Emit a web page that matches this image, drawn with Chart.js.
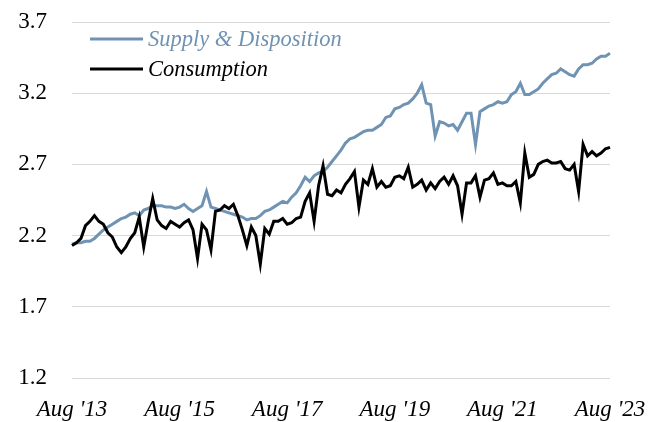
<!DOCTYPE html>
<html>
<head>
<meta charset="utf-8">
<script src="https://cdn.jsdelivr.net/npm/chart.js@4.4.1/dist/chart.umd.min.js"></script>
<style>
  html, body { margin: 0; padding: 0; background: #fff; }
  #wrap { width: 660px; height: 422px; }
</style>
</head>
<body>
<div id="wrap"><canvas id="chart" width="660" height="422"></canvas></div>
<script>
// monthly, Aug 2013 .. Aug 2023
const startYear = 2013, startMonth = 7;
const monthNames = ['Jan', 'Feb', 'Mar', 'Apr', 'May', 'Jun', 'Jul', 'Aug', 'Sep', 'Oct', 'Nov', 'Dec'];
const xTickLabels = ["Aug '13", "Aug '15", "Aug '17", "Aug '19", "Aug '21", "Aug '23"];
const yTicks = [1.2, 1.7, 2.2, 2.7, 3.2, 3.7];

const supplyDisposition = [
  2.14, 2.15, 2.15, 2.16, 2.16, 2.18, 2.21, 2.24, 2.26, 2.28, 2.30, 2.32,
  2.33, 2.35, 2.36, 2.34, 2.38, 2.39, 2.41, 2.41, 2.41, 2.40, 2.40, 2.39,
  2.40, 2.42, 2.39, 2.37, 2.39, 2.41, 2.51, 2.40, 2.39, 2.38, 2.37, 2.36,
  2.35, 2.34, 2.33, 2.31, 2.32, 2.32, 2.34, 2.37, 2.38, 2.40, 2.42, 2.44,
  2.43, 2.47, 2.50, 2.55, 2.61, 2.58, 2.62, 2.64, 2.65, 2.68, 2.72, 2.76,
  2.80, 2.85, 2.88, 2.89, 2.91, 2.93, 2.94, 2.94, 2.96, 2.98, 3.03, 3.04,
  3.09, 3.10, 3.12, 3.13, 3.16, 3.20, 3.26, 3.13, 3.12, 2.90, 3.00, 2.99,
  2.97, 2.98, 2.94, 3.00, 3.06, 3.06, 2.84, 3.07, 3.09, 3.11, 3.12, 3.14,
  3.13, 3.14, 3.19, 3.21, 3.27, 3.19, 3.19, 3.21, 3.23, 3.27, 3.30, 3.33,
  3.34, 3.37, 3.35, 3.33, 3.32, 3.37, 3.40, 3.40, 3.41, 3.44, 3.46, 3.46,
  3.48
];

const consumption = [
  2.13, 2.15, 2.18, 2.27, 2.30, 2.34, 2.30, 2.28, 2.22, 2.19, 2.12, 2.08,
  2.12, 2.18, 2.22, 2.33, 2.12, 2.30, 2.46, 2.31, 2.27, 2.25, 2.30, 2.28,
  2.26, 2.29, 2.31, 2.24, 2.04, 2.28, 2.24, 2.10, 2.37, 2.38, 2.41, 2.39,
  2.42, 2.34, 2.24, 2.13, 2.26, 2.20, 2.00, 2.25, 2.21, 2.30, 2.30, 2.32,
  2.28, 2.29, 2.32, 2.33, 2.44, 2.50, 2.30, 2.55, 2.69, 2.49, 2.48, 2.52,
  2.50, 2.56, 2.60, 2.65, 2.40, 2.59, 2.56, 2.67, 2.54, 2.58, 2.54, 2.55,
  2.61, 2.62, 2.60, 2.68, 2.54, 2.56, 2.59, 2.52, 2.57, 2.53, 2.58, 2.61,
  2.56, 2.62, 2.55, 2.35, 2.57, 2.57, 2.62, 2.47, 2.59, 2.60, 2.64, 2.56,
  2.57, 2.55, 2.55, 2.58, 2.43, 2.78, 2.61, 2.63, 2.70, 2.72, 2.73, 2.71,
  2.71, 2.72, 2.67, 2.66, 2.70, 2.51, 2.84, 2.76, 2.79, 2.76, 2.78, 2.81,
  2.82
];

const labels = supplyDisposition.map((v, i) => {
  const m = (startMonth + i) % 12;
  const y = startYear + Math.floor((startMonth + i) / 12);
  return monthNames[m] + " '" + String(y).slice(2);
});

const serif = '"Liberation Serif", "DejaVu Serif", serif';

// legend drawn inside the plot, top-left, text coloured like the line
const innerLegend = {
  id: 'innerLegend',
  afterDraw(chart) {
    const ctx = chart.ctx;
    const x0 = 90, y0 = 39, rowGap = 30, lineLen = 53;
    ctx.save();
    ctx.font = 'italic 22.5px ' + serif;
    ctx.textBaseline = 'middle';
    chart.data.datasets.forEach((ds, i) => {
      const y = y0 + i * rowGap;
      ctx.strokeStyle = ds.borderColor;
      ctx.lineWidth = 3;
      ctx.beginPath();
      ctx.moveTo(x0, y);
      ctx.lineTo(x0 + lineLen, y);
      ctx.stroke();
      ctx.fillStyle = ds.borderColor;
      ctx.fillText(ds.label, x0 + lineLen + 5, y + 1);
    });
    ctx.restore();
  }
};

new Chart(document.getElementById('chart'), {
  type: 'line',
  data: {
    labels: labels,
    datasets: [
      { label: 'Supply & Disposition', data: supplyDisposition, borderColor: '#7093b4', borderWidth: 3, pointRadius: 0, tension: 0, order: 2 },
      { label: 'Consumption', data: consumption, borderColor: '#000000', borderWidth: 3, pointRadius: 0, tension: 0, order: 1 }
    ]
  },
  options: {
    responsive: false,
    animation: false,
    layout: { padding: { top: 22, right: 50, left: 0, bottom: 0 } },
    plugins: { legend: { display: false }, tooltip: { enabled: false } },
    scales: {
      x: {
        type: 'category',
        offset: false,
        grid: { display: false },
        border: { display: false },
        afterFit(scale) { scale.height = 44; },
        ticks: {
          autoSkip: false,
          maxRotation: 0,
          padding: 10,
          color: '#000',
          font: { family: serif, size: 23, style: 'italic' },
          callback(value, index) {
            return index % 24 === 0 ? xTickLabels[index / 24] : null;
          }
        }
      },
      y: {
        min: 1.2,
        max: 3.7,
        afterFit(scale) {
          scale.width = 72;
          // tick padding would otherwise push the plot down
          scale.paddingTop = 0;
          scale.paddingBottom = 0;
        },
        afterBuildTicks(scale) { scale.ticks = yTicks.map(v => ({ value: v })); },
        grid: { color: '#d9d9d9', lineWidth: 1, drawTicks: false },
        border: { display: false },
        ticks: {
          padding: 25,
          color: '#000',
          font: { family: serif, size: 23 },
          callback: v => v.toFixed(1)
        }
      }
    }
  },
  plugins: [innerLegend]
});
</script>
</body>
</html>
